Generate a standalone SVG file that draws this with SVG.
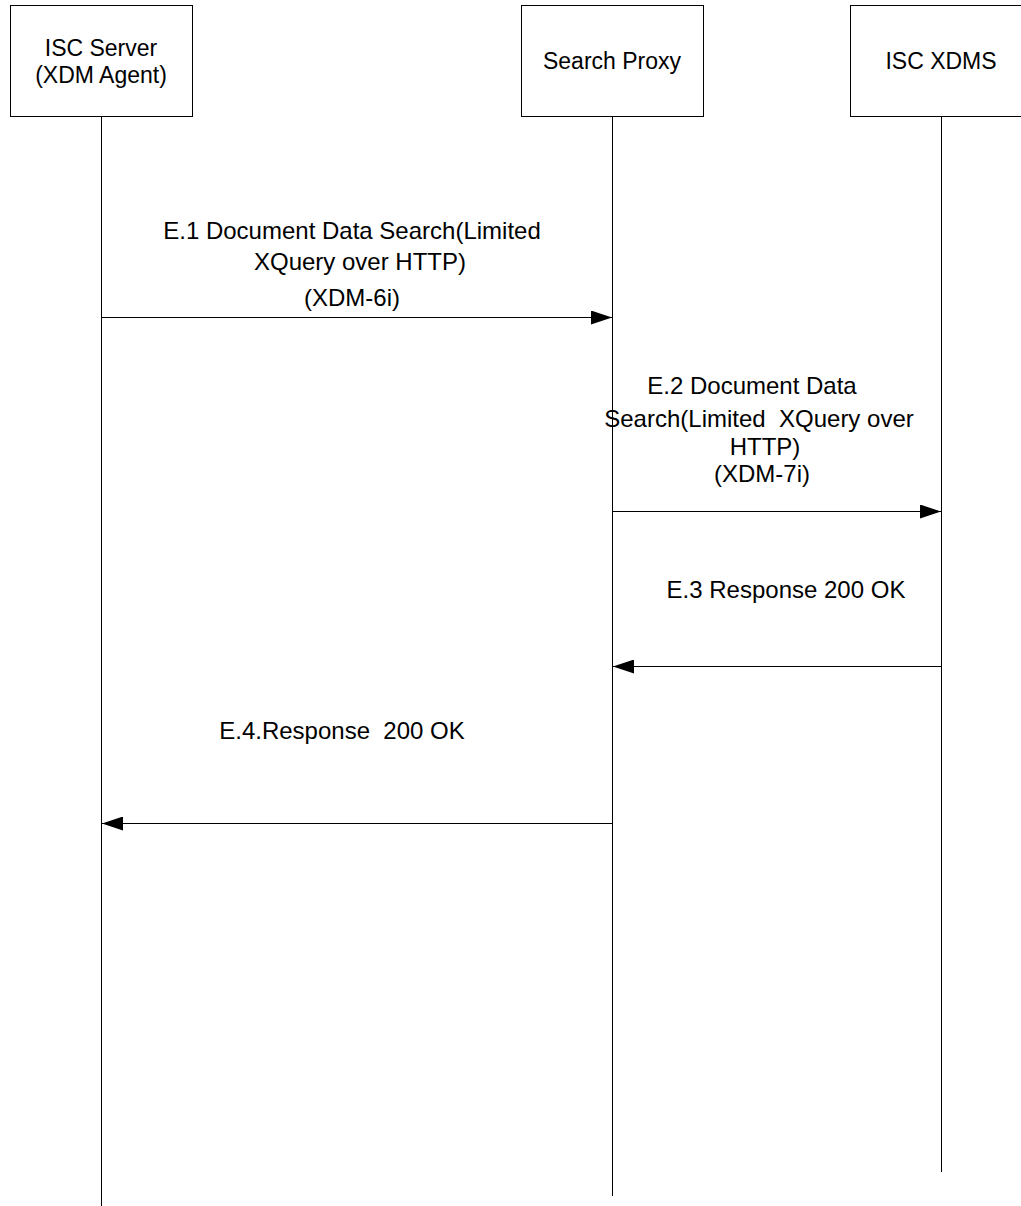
<svg xmlns="http://www.w3.org/2000/svg" width="1021" height="1206" viewBox="0 0 1021 1206">
<style>
.box{fill:#fff;stroke:#000;stroke-width:1}
.life{stroke:#000;stroke-width:1;fill:none}
.msg{stroke:#000;stroke-width:1;fill:none}
text{font-family:"Liberation Sans",Arial,sans-serif;font-size:23px;fill:#000;text-anchor:middle;white-space:pre}
.lbl{font-size:24px}
</style>
<defs>
<marker id="ah" markerWidth="21" markerHeight="14" refX="21" refY="7" orient="auto" markerUnits="userSpaceOnUse">
<path d="M0,0 L21,7 L0,14 Z" fill="#000"/>
</marker>
</defs>
<rect width="1021" height="1206" fill="#fff"/>
<g id="node-isc-server">
<rect class="box" x="10.5" y="5.5" width="182" height="111"/>
<text x="101" y="56">ISC Server</text>
<text x="101" y="83">(XDM Agent)</text>
</g>
<g id="node-search-proxy">
<rect class="box" x="521.5" y="5.5" width="182" height="111"/>
<text x="612" y="69">Search Proxy</text>
</g>
<g id="node-isc-xdms">
<rect class="box" x="850.5" y="5.5" width="182" height="111"/>
<text x="941" y="69">ISC XDMS</text>
</g>
<g id="connectors">
<line class="life" x1="101.5" y1="116" x2="101.5" y2="1206"/>
<line class="life" x1="612.5" y1="116" x2="612.5" y2="1196"/>
<line class="life" x1="941.5" y1="116" x2="941.5" y2="1172"/>
<line class="msg" x1="101.5" y1="317.5" x2="612" y2="317.5" marker-end="url(#ah)"/>
<line class="msg" x1="612.5" y1="511.5" x2="941" y2="511.5" marker-end="url(#ah)"/>
<line class="msg" x1="941.5" y1="666.5" x2="613" y2="666.5" marker-end="url(#ah)"/>
<line class="msg" x1="612.5" y1="823.5" x2="102" y2="823.5" marker-end="url(#ah)"/>
<text class="lbl" x="352" y="239">E.1 Document Data Search(Limited</text>
<text class="lbl" x="360" y="270">XQuery over HTTP)</text>
<text class="lbl" x="352" y="306">(XDM-6i)</text>
<text class="lbl" x="752" y="394">E.2 Document Data</text>
<text class="lbl" x="759" y="427">Search(Limited  XQuery over</text>
<text class="lbl" x="765" y="455">HTTP)</text>
<text class="lbl" x="762" y="482">(XDM-7i)</text>
<text class="lbl" x="786" y="598">E.3 Response 200 OK</text>
<text class="lbl" x="342" y="739">E.4.Response  200 OK</text>
</g>
</svg>
